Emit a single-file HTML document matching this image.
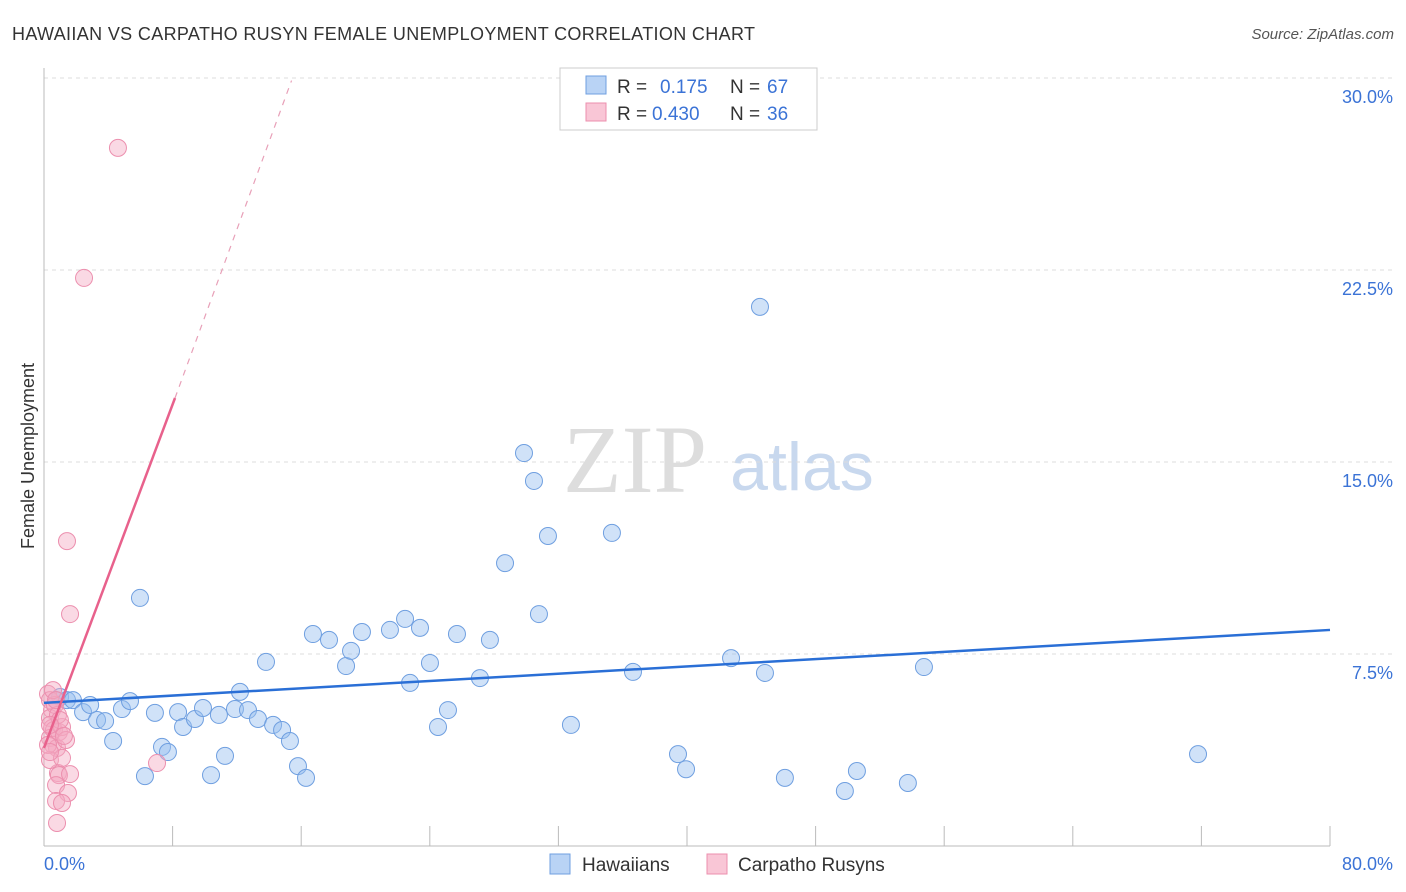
<!DOCTYPE html>
<html><head><meta charset="utf-8"><style>
body{margin:0;background:#fff;font-family:"Liberation Sans",sans-serif;}
</style></head><body>
<svg id="chart" width="1406" height="892" xmlns="http://www.w3.org/2000/svg" style="display:block">
<text x="12" y="40" font-size="18" fill="#333" textLength="743">HAWAIIAN VS CARPATHO RUSYN FEMALE UNEMPLOYMENT CORRELATION CHART</text>
<text x="1394" y="39" font-size="15" fill="#555" text-anchor="end" font-style="italic">Source: ZipAtlas.com</text>
<text x="635" y="492" font-size="96" fill="#ddd" font-family="Liberation Serif,serif" text-anchor="middle">ZIP</text>
<text x="802" y="490" font-size="68" fill="#c8d8ee" text-anchor="middle">atlas</text>
<text transform="translate(34,456) rotate(-90)" font-size="18" fill="#333" text-anchor="middle">Female Unemployment</text>
<g id="grid"></g><g id="marks"></g>
<g>
<rect x="560" y="68" width="257" height="62" fill="#fff" stroke="#ccc"/>
<rect x="586" y="76" width="20" height="18" fill="#b9d3f5" stroke="#6f9fe0"/>
<text x="617" y="93" font-size="19" fill="#333">R =</text>
<text x="660" y="93" font-size="19" fill="#3b73d6">0.175</text>
<text x="730" y="93" font-size="19" fill="#333">N =</text>
<text x="767" y="93" font-size="19" fill="#3b73d6">67</text>
<rect x="586" y="103" width="20" height="18" fill="#f9c6d6" stroke="#ec8fae"/>
<text x="617" y="120" font-size="19" fill="#333">R =</text>
<text x="652" y="120" font-size="19" fill="#3b73d6">0.430</text>
<text x="730" y="120" font-size="19" fill="#333">N =</text>
<text x="767" y="120" font-size="19" fill="#3b73d6">36</text>
</g>
<g>
<rect x="550" y="854" width="20" height="20" fill="#b9d3f5" stroke="#6f9fe0"/>
<text x="582" y="871" font-size="19" fill="#333">Hawaiians</text>
<rect x="707" y="854" width="20" height="20" fill="#f9c6d6" stroke="#ec8fae"/>
<text x="738" y="871" font-size="19" fill="#333">Carpatho Rusyns</text>
</g>
<text x="44" y="870" font-size="18" fill="#3b73d6">0.0%</text>
<text x="1393" y="870" font-size="18" fill="#3b73d6" text-anchor="end">80.0%</text>
</svg>
<script>
const yTicks=[7.5,15,22.5,30];
const yTickLabels=["7.5%","15.0%","22.5%","30.0%"];
const xTicks=[0,8,16,24,32,40,48,56,64,72,80];
const blueX=[0.75,1,1.43,1.8,2.43,2.87,3.3,3.8,4.3,4.85,5.35,5.97,6.28,6.9,7.34,7.71,8.34,8.65,9.39,9.89,10.39,10.88,11.26,11.88,12.19,12.69,13.31,13.81,14.25,14.81,15.3,15.8,16.3,16.73,17.73,18.79,19.1,19.78,21.52,22.46,22.77,23.39,24.01,24.51,25.13,25.69,27.12,27.74,28.68,29.86,30.48,30.79,31.35,32.78,35.33,36.64,39.44,39.94,42.74,44.54,44.85,46.09,49.82,50.57,53.74,54.74,71.79];
const blueY=[5.7,5.82,5.7,5.7,5.23,5.51,4.92,4.88,4.1,5.35,5.66,9.69,2.73,5.2,3.87,3.67,5.23,4.65,4.96,5.39,2.77,5.12,3.52,5.35,6.02,5.31,4.96,7.19,4.73,4.53,4.1,3.12,2.66,8.28,8.05,7.03,7.62,8.36,8.44,8.87,6.37,8.52,7.15,4.65,5.31,8.28,6.56,8.05,11.05,15.35,14.26,9.06,12.11,4.73,12.23,6.8,3.59,3.0,7.34,21.06,6.76,2.66,2.15,2.93,2.46,6.99,3.59];
const pinkX=[0.25,0.37,0.5,0.37,0.5,0.62,0.37,0.56,0.81,0.93,1.12,1.37,0.87,0.93,1.62,0.75,1.49,0.75,1.12,0.81,1.43,1.62,2.49,4.6,7.03,0.37,0.25,0.68,0.87,0.99,0.56,1.12,0.37,0.75,1.24,0.37];
const pinkY=[5.94,5.7,5.31,5.0,4.61,4.53,4.22,3.95,3.83,4.45,4.65,4.14,2.85,2.77,2.81,2.38,2.07,1.76,1.68,0.9,11.91,9.06,22.19,27.27,3.24,3.36,3.95,5.51,5.12,4.92,6.09,3.44,4.73,5.7,4.3,3.67];
const blueTrend=[0,5.59,80,8.44];
const pinkTrend=[0,3.83,8.15,17.5,15.4,29.9];
const NS="http://www.w3.org/2000/svg";
const X=v=>44+v*16.075, Y=v=>846-v*25.6;
function mk(t,a,p){const e=document.createElementNS(NS,t);for(const k in a)e.setAttribute(k,a[k]);p.appendChild(e);return e;}
const grid=document.getElementById('grid'),marks=document.getElementById('marks');
yTicks.forEach((v,i)=>{
 const l=mk('line',{x1:44,x2:1394,y1:Y(v),y2:Y(v),stroke:'#ddd','stroke-dasharray':'4,4'},grid);
 
 
 const t=mk('text',{x:1393,y:Y(v)+25,'font-size':18,fill:'#3b73d6','text-anchor':'end'},grid);
 t.textContent=yTickLabels[i];
 
 
});
const ax=mk('line',{x1:44,x2:1330,y1:846,y2:846,stroke:'#bbb'},grid);


const ay=mk('line',{x1:44,x2:44,y1:68,y2:846,stroke:'#bbb'},grid);


xTicks.forEach(v=>{const t=mk('line',{x1:X(v),x2:X(v),y1:826,y2:846,stroke:'#bbb'},grid);
 
 });
blueX.forEach((v,i)=>{const c=mk('circle',{cx:X(v),cy:Y(blueY[i]),r:8.5,fill:'rgba(150,190,240,0.45)',stroke:'#6f9fe0','stroke-width':1},marks);
 
 });
pinkX.forEach((v,i)=>{const c=mk('circle',{cx:X(v),cy:Y(pinkY[i]),r:8.5,fill:'rgba(245,170,195,0.45)',stroke:'#ec8fae','stroke-width':1},marks);
 
 });
const bt=mk('line',{x1:X(blueTrend[0]),y1:Y(blueTrend[1]),x2:X(blueTrend[2]),y2:Y(blueTrend[3]),stroke:'#2a6fd6','stroke-width':2.5},marks);


const pt=mk('line',{x1:X(pinkTrend[0]),y1:Y(pinkTrend[1]),x2:X(pinkTrend[2]),y2:Y(pinkTrend[3]),stroke:'#e8618c','stroke-width':2.5},marks);


const pd=mk('line',{x1:X(pinkTrend[2]),y1:Y(pinkTrend[3]),x2:X(pinkTrend[4]),y2:Y(pinkTrend[5]),stroke:'#e8a0b8','stroke-width':1.2,'stroke-dasharray':'6,6'},marks);


</script>
</body></html>
